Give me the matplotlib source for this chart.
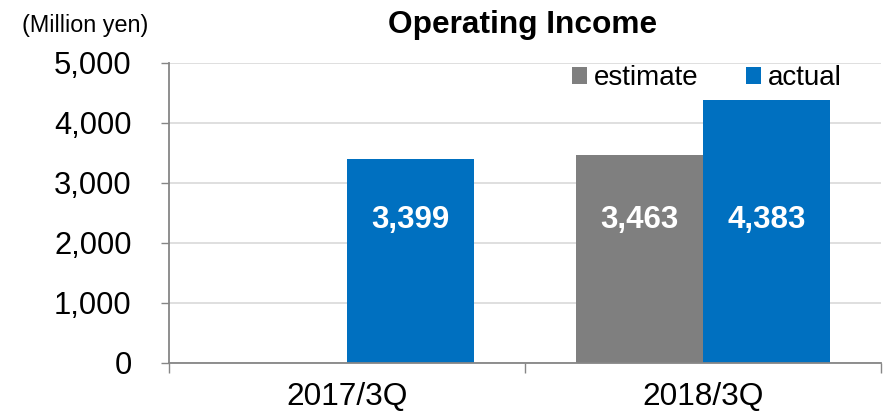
import matplotlib
matplotlib.use("Agg")
import matplotlib.pyplot as plt
import numpy as np
from matplotlib.ticker import FuncFormatter

plt.rcParams['font.family'] = ['Liberation Sans', 'DejaVu Sans']

categories = ["2017/3Q", "2018/3Q"]
estimate = [np.nan, 3463]
actual = [3399, 4383]
yticks = [0, 1000, 2000, 3000, 4000, 5000]

c_est = "#7F7F7F"
c_act = "#0070C0"
spine_c = "#868686"
grid_c = "#D9D9D9"

fig = plt.figure(figsize=(8.86, 4.18), dpi=100)
ax = fig.add_axes([169/886, 1 - 363/418, (881-169)/886, (363-62.7)/418])

x = np.arange(len(categories))
w = 0.357
b1 = ax.bar(x - w/2, estimate, w, color=c_est, label="estimate", zorder=3)
b2 = ax.bar(x + w/2, actual, w, color=c_act, label="actual", zorder=3)

label_y = 2380
for xs, vals in ((x - w/2, estimate), (x + w/2, actual)):
    for xi, v in zip(xs, vals):
        if np.isnan(v):
            continue
        ax.text(xi, label_y, f"{int(v):,}", ha="center", va="center",
                color="white", fontsize=22.5, fontweight="bold", zorder=4)

ax.set_xlim(-0.5, 1.5)
ax.set_ylim(0, 5000)
ax.set_yticks(yticks)
ax.yaxis.set_major_formatter(FuncFormatter(lambda v, p: f"{int(v):,}"))
ax.tick_params(axis="y", length=6, width=1, color=spine_c, labelsize=22.2, pad=21)
ax.set_xticks([-0.5, 0.5, 1.5])
ax.set_xticklabels([])
ax.set_xticks(x, minor=True)
ax.set_xticklabels(categories, minor=True)
ax.tick_params(axis="x", which="major", length=7.5, width=1, color=spine_c)
ax.tick_params(axis="x", which="minor", length=0, labelsize=22.8, pad=14)

ax.grid(axis="y", color=grid_c, linewidth=1.2, zorder=0)
for s in ("top", "right"):
    ax.spines[s].set_visible(False)
for s in ("left", "bottom"):
    ax.spines[s].set_color(spine_c)
    ax.spines[s].set_linewidth(1.3)
    ax.spines[s].set_zorder(5)

fig.text(523/886, 1 - 33.3/418, "Operating Income", ha="center", va="baseline",
         fontsize=22.8, fontweight="bold")
fig.text(85/886, 1 - 31.7/418, "(Million yen)", ha="center", va="baseline",
         fontsize=16.8)

leg = fig.legend(handles=[b1, b2], loc="center left",
                 bbox_to_anchor=(572/886, 1 - 78/418), ncol=2, frameon=False,
                 fontsize=20, handlelength=0.55, handleheight=0.55,
                 handletextpad=0.22, columnspacing=1.73, borderpad=0, borderaxespad=0)

fig.savefig("out.png", dpi=100)
